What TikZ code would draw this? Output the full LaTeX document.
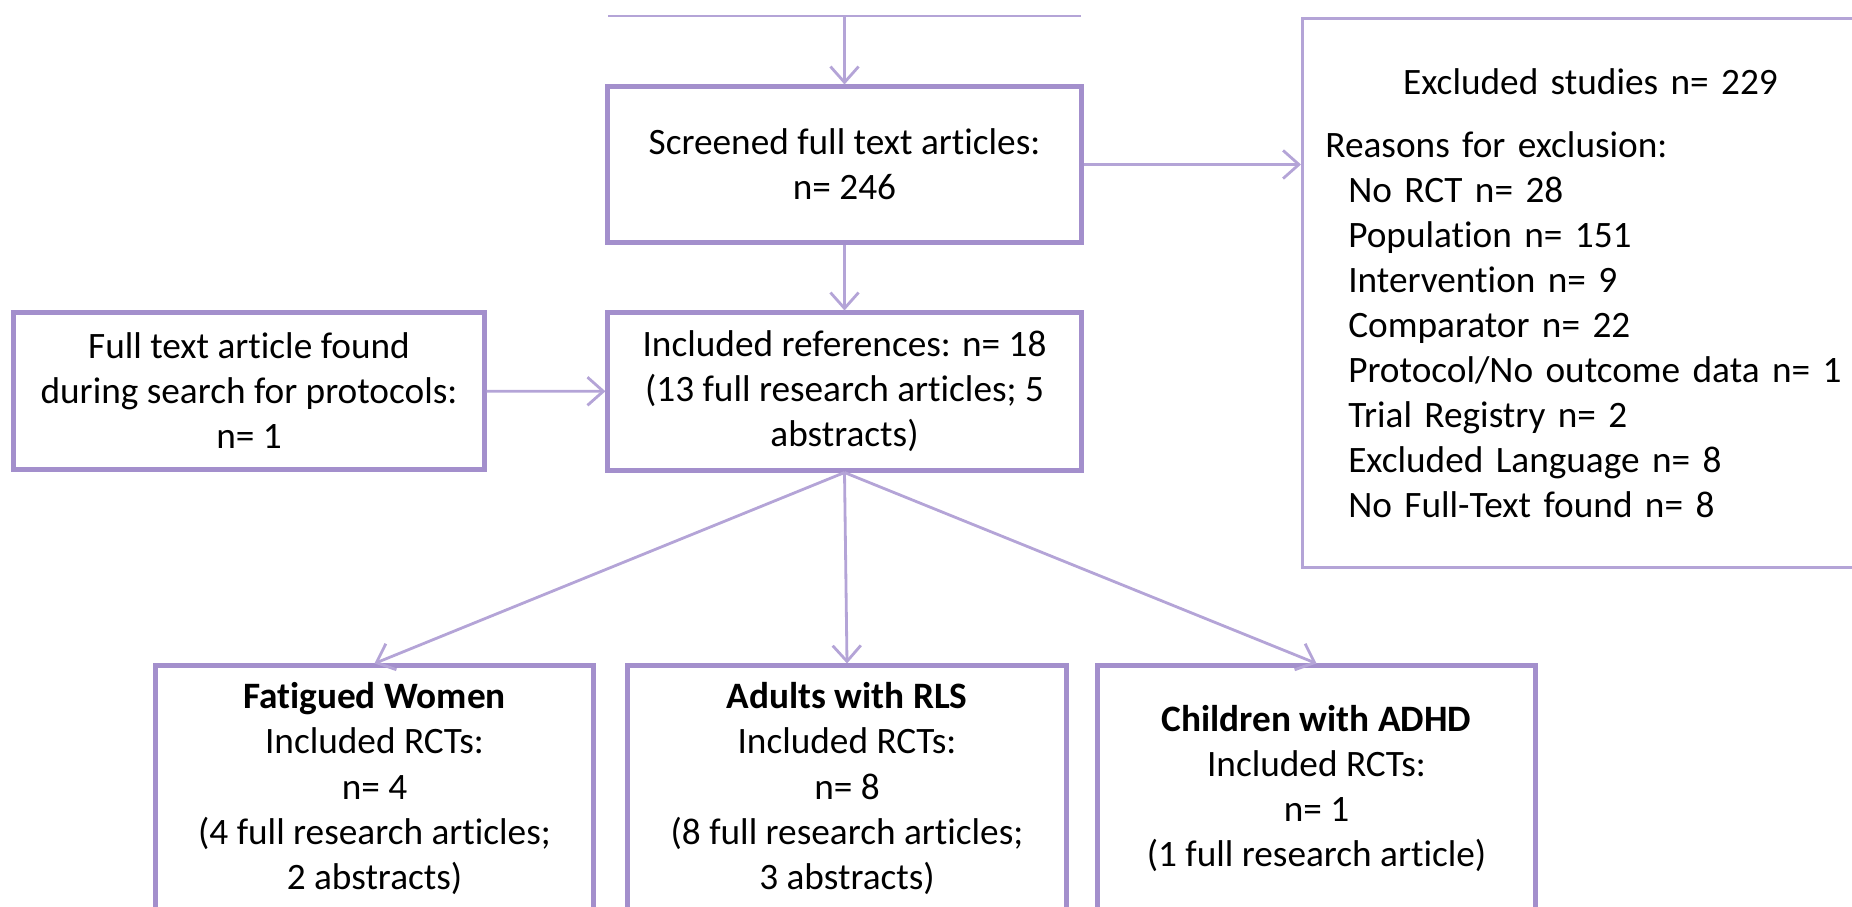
\documentclass[tikz,border=0pt]{standalone}
\usepackage{fontspec}
\setmainfont{Carlito}[Ligatures=NoCommon]
\usepackage{tikz}
\usetikzlibrary{arrows.meta,positioning,calc}
\definecolor{boxc}{RGB}{163,143,204}
\definecolor{arrc}{RGB}{180,164,215}

\begin{document}
\begin{tikzpicture}[x=0.01cm, y=-0.01cm, font=\fontsize{10.6pt}{12.8pt}\selectfont,
  bx/.style={draw=boxc,line width=1.4pt,align=center,minimum width=#1,inner sep=0pt},
  thinbx/.style={draw=arrc,line width=0.8pt,align=left},
  arr/.style={-{Straight Barb[length=4.5pt,width=8pt,line width=0.8pt]},draw=arrc,line width=0.8pt}]
\useasboundingbox (0,0) rectangle (1852,906);
\clip (0,0) rectangle (1852,906);
% upper chain
\coordinate (topL) at (608,16);
\coordinate (topR) at (1081,16);
\coordinate (topM) at (844.5,16);
\draw[arrc,line width=0.7pt] (topL) -- (topR);
\node[bx=4.73cm, minimum height=1.55cm] (scr) at (844.5,164.5) {Screened full text articles:\\n= 246};
\node[bx=4.73cm, minimum height=1.57cm] (incl) at (844.5,391.5) {Included references: n= 18\\(13 full research articles; 5\\abstracts)};
\node[bx=4.70cm, minimum height=1.56cm] (full) at (249,391) {Full text article found\\during search for protocols:\\n= 1};
\node[thinbx, anchor=north west, minimum width=5.76cm, minimum height=5.49cm,
  inner xsep=0.23cm, text width=5.30cm] (excl) at (1301,17)
  {\makebox[\linewidth]{Excluded studies n= 229}\\[5pt]
   Reasons for exclusion:\\
   \hspace*{6.5pt}No RCT n= 28\\
   \hspace*{6.5pt}Population n= 151\\
   \hspace*{6.5pt}Intervention\ n= 9\\
   \hspace*{6.5pt}Comparator n= 22\\
   \hspace*{6.5pt}Protocol/No outcome data n= 1\\
   \hspace*{6.5pt}Trial Registry n= 2\\
   \hspace*{6.5pt}Excluded Language n= 8\\
   \hspace*{6.5pt}No Full-Text found n= 8};
% populations
\node[bx=4.37cm, minimum height=2.45cm] (fat) at (374.5,788.5) {\textbf{Fatigued Women}\\Included RCTs:\\n= 4\\(4 full research articles;\\2 abstracts)};
\node[bx=4.38cm, minimum height=2.45cm] (adl) at (847,788.5) {\textbf{Adults with RLS}\\Included RCTs:\\n= 8\\(8 full research articles;\\3 abstracts)};
\node[bx=4.37cm, minimum height=2.45cm] (chd) at (1316.5,788.5) {\textbf{Children with ADHD}\\Included RCTs:\\n= 1\\(1 full research article)};
\draw[arr] (topM) -- (scr);
\draw[arr] (scr) -- (incl);
\draw[arr] (full) -- (incl);
\draw[arr] (scr.east) -- (scr.east -| excl.west);
\foreach \t in {fat,adl,chd} \draw[arr] (incl.south) -- (\t.north);
\end{tikzpicture}
\end{document}
